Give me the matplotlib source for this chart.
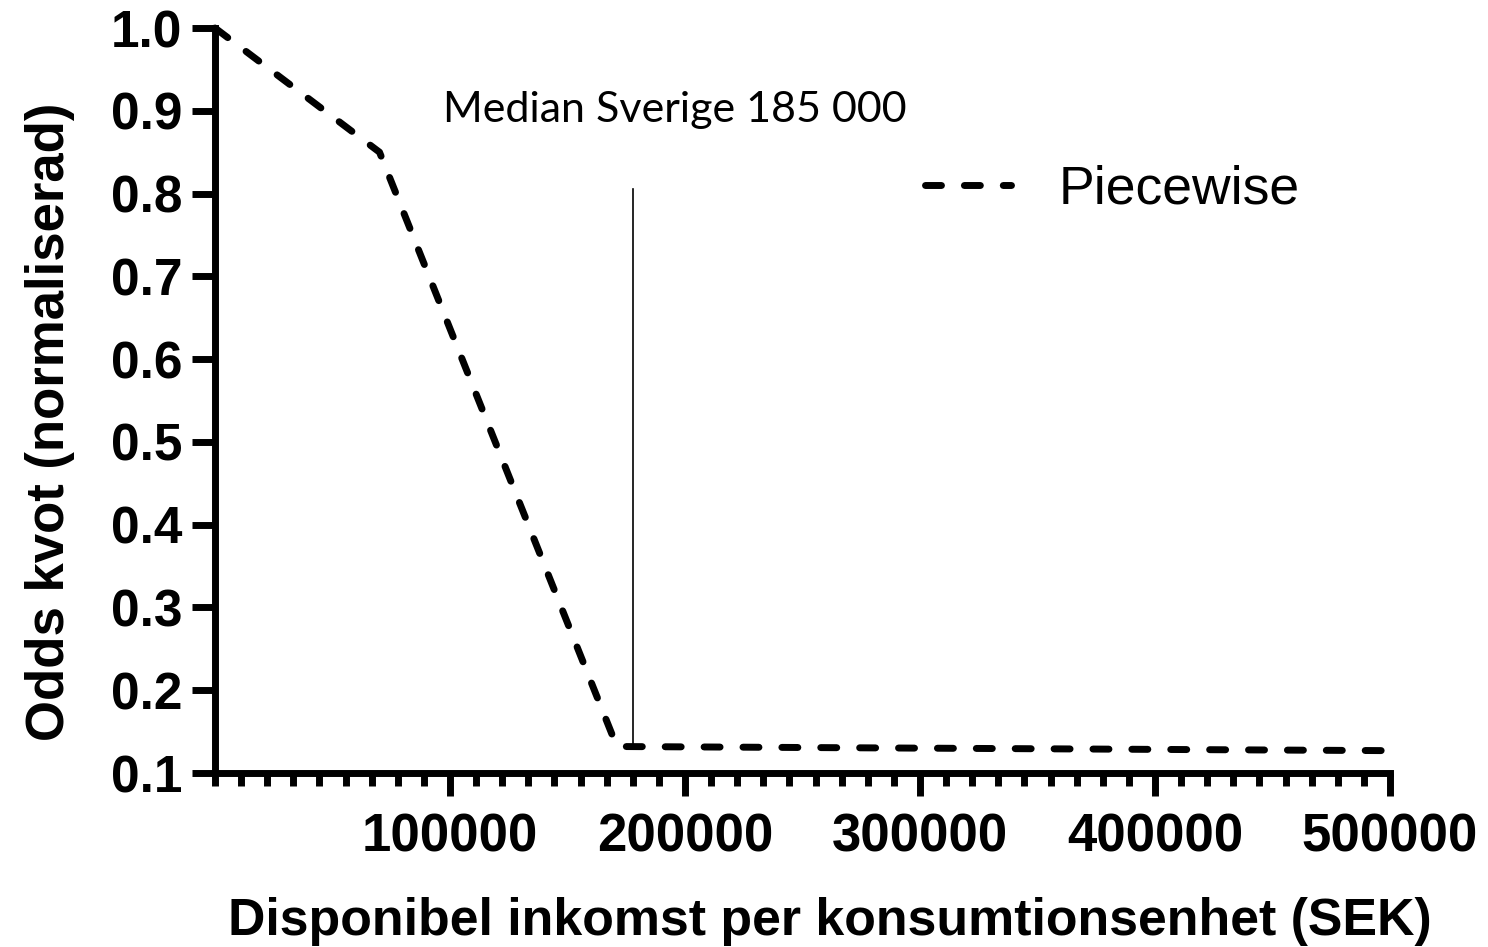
import matplotlib.pyplot as plt
from matplotlib.ticker import MultipleLocator

plt.rcParams['font.family'] = ['Liberation Sans', 'DejaVu Sans']

# Piecewise odds ratio curve
income = [0, 70000, 171000, 500000]
odds = [1.0, 0.85, 0.132, 0.127]

median_x = 178000
median_top = 0.805
median_label = "Median Sverige 185 000"

x_ticks = [100000, 200000, 300000, 400000, 500000]
y_ticks = [0.1, 0.2, 0.3, 0.4, 0.5, 0.6, 0.7, 0.8, 0.9, 1.0]

fig = plt.figure(figsize=(14.88, 9.47), dpi=100)
ax = fig.add_axes([215 / 1488, 1 - 773 / 947, 1175 / 1488, 745 / 947])

line, = ax.plot(income, odds, color="black", linewidth=5,
                linestyle=(0, (2.3, 3.3)), dash_capstyle="round",
                solid_capstyle="round", label="Piecewise", clip_on=False)

ax.plot([median_x, median_x], [odds[2], median_top], color="black", linewidth=1.2)
ax.text(97000, 0.901, median_label, fontsize=31, family=["Lato", "DejaVu Sans"],
        va="center", ha="left")

ax.set_xlim(0, 500000)
ax.set_ylim(0.1, 1.0)
ax.set_xticks(x_ticks)
ax.set_xticklabels([str(v) for v in x_ticks])
ax.set_yticks(y_ticks)
ax.set_yticklabels([f"{v:.1f}" for v in y_ticks])
ax.xaxis.set_minor_locator(MultipleLocator(100000 / 9))

for s in ["top", "right"]:
    ax.spines[s].set_visible(False)
for s in ["left", "bottom"]:
    ax.spines[s].set_linewidth(5)

ax.tick_params(axis="both", which="major", length=16.5, width=5, direction="out")
ax.tick_params(axis="x", which="minor", length=9.5, width=5, direction="out")
ax.tick_params(axis="x", which="major", labelsize=38, pad=12)
ax.tick_params(axis="y", which="major", labelsize=37, pad=7)
for lab in ax.get_xticklabels() + ax.get_yticklabels():
    lab.set_fontweight("bold")

ax.set_xlabel("Disponibel inkomst per konsumtionsenhet (SEK)", fontsize=37.4, fontweight="bold")
ax.xaxis.set_label_coords(0.523, -0.166)
ax.set_ylabel("Odds kvot (normaliserad)", fontsize=38, fontweight="bold")
ax.yaxis.set_label_coords(-0.119, 0.471)

ax.legend(handles=[line], loc="center left", bbox_to_anchor=(925 / 1488, 1 - 190 / 947),
          bbox_transform=fig.transFigure, frameon=False, fontsize=38.5,
          handlelength=1.6, handletextpad=0.9, borderpad=0, borderaxespad=0)

fig.savefig("out.png", dpi=100)
